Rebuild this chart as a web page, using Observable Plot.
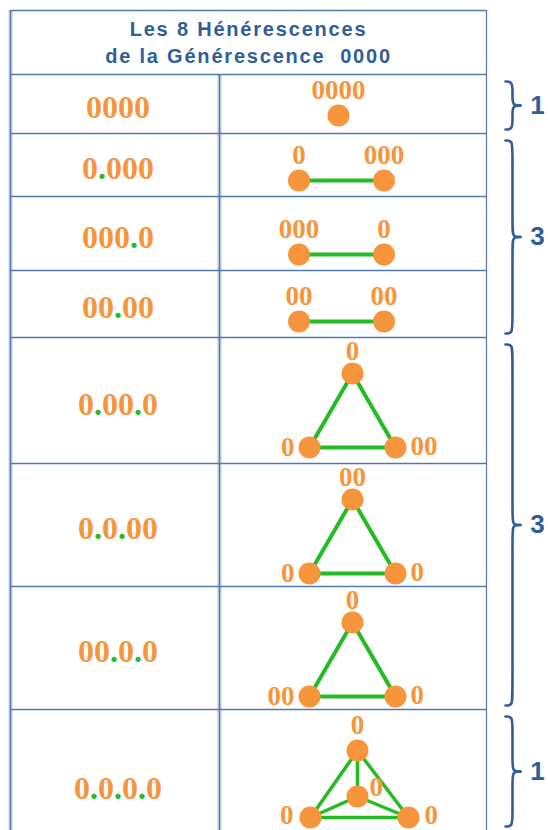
<!DOCTYPE html>
<html><head><meta charset="utf-8">
<script src="https://cdn.jsdelivr.net/npm/d3@7"></script>
<script src="https://cdn.jsdelivr.net/npm/@observablehq/plot@0.6"></script>
<style>html,body{margin:0;padding:0;background:#fff} svg{display:block}</style>
</head><body><div id="chart"></div>
<script>
// ---------- data ----------
const titleLines = ["Les 8 Hénérescences", "de la Générescence  0000"];
const codes = ["0000", "0.000", "000.0", "00.00", "0.00.0", "0.0.00", "00.0.0", "0.0.0.0"];
// vertex labels per row (order: top / left / right / centre)
const vertexLabels = [
  ["0000"],
  ["0", "000"],
  ["000", "0"],
  ["00", "00"],
  ["0", "0", "00"],
  ["00", "0", "0"],
  ["0", "00", "0"],
  ["0", "0", "0", "0"]
];
const groupRows = [[0], [1, 2, 3], [4, 5, 6], [7]];
const groupCounts = ["1", "3", "3", "1"];

// ---------- layout ----------
const W = 548, H = 830;
const tableLeft = 10, colSplit = 219, tableRight = 486, tableTop = 10, headerBottom = 74;
const rowBottoms = [133, 196, 270, 337, 463, 586, 709, 860];
const rowTop = i => i === 0 ? headerBottom : rowBottoms[i - 1];

const ORANGE = "#f7953d", GREEN = "#25bb25", BLUE = "#2f5e9a", GRID = "#5279ae";

function verticesFor(n, top, bottom) {
  if (n === 1) {
    const x = 338, y = bottom - 18;
    return [{x, y, lx: x, ly: y - 25, anchor: "middle"}];
  }
  if (n === 2) {
    const cx = 341, h = 42.5, y = bottom - 16;
    return [-1, 1].map(s => ({x: cx + s * h, y, lx: cx + s * h, ly: y - 25, anchor: "middle"}));
  }
  if (n === 3) {
    const cx = 352, h = 43, yt = top + 36, yb = top + 110;
    return [
      {x: cx, y: yt, lx: cx, ly: yt - 22, anchor: "middle"},
      {x: cx - h, y: yb, lx: cx - h - 15, ly: yb, anchor: "end"},
      {x: cx + h, y: yb, lx: cx + h + 15, ly: yb - 1, anchor: "start"}
    ];
  }
  const cx = 357, yt = top + 41, yb = top + 108, yc = top + 87;
  return [
    {x: cx, y: yt, lx: cx, ly: yt - 25, anchor: "middle"},
    {x: cx - 47, y: yb, lx: cx - 47 - 17, ly: yb - 2, anchor: "end"},
    {x: cx + 51, y: yb, lx: cx + 51 + 16, ly: yb - 2, anchor: "start"},
    {x: cx, y: yc, lx: cx + 12, ly: yc - 9, anchor: "start"}
  ];
}

const nodes = [], edges = [], codeRows = [];
vertexLabels.forEach((labels, i) => {
  const top = rowTop(i), bottom = rowBottoms[i];
  const vs = verticesFor(labels.length, top, bottom);
  vs.forEach((v, k) => nodes.push({...v, label: labels[k], row: i}));
  for (let a = 0; a < vs.length; a++)
    for (let b = a + 1; b < vs.length; b++)
      edges.push({x1: vs[a].x, y1: vs[a].y, x2: vs[b].x, y2: vs[b].y, w: vs.length === 4 ? 3.5 : 4});
  codeRows.push({text: codes[i], x: (tableLeft + colSplit) / 2 + 3, y: (top + bottom) / 2 + 4});
});

// braces
const bracePts = [], braceLabels = [];
groupRows.forEach((rows, g) => {
  const y0 = rowTop(rows[0]) + 7;
  const y1 = Math.min(rowBottoms[rows[rows.length - 1]], H) - 4;
  const ym = (y0 + y1) / 2;
  const xt = 505, xs = 512, xp = 520;
  const upper = [[xt, y0], [xs, y0], [xs, y0 + 12], [xs, ym - 10], [xs, ym], [xp, ym]];
  const lower = [[xp, ym], [xs, ym], [xs, ym + 10], [xs, y1 - 12], [xs, y1], [xt, y1]];
  upper.forEach(([x, y]) => bracePts.push({x, y, z: g + "u"}));
  lower.forEach(([x, y]) => bracePts.push({x, y, z: g + "l"}));
  braceLabels.push({x: 537, y: ym, text: groupCounts[g]});
});

const hLines = [tableTop, headerBottom, ...rowBottoms.filter(y => y < H)];

const svg = Plot.plot({
  width: W, height: H,
  margin: 0, marginTop: 0, marginRight: 0, marginBottom: 0, marginLeft: 0,
  x: {domain: [0, W], range: [0, W], axis: null},
  y: {domain: [0, H], range: [0, H], axis: null},
  style: {background: "#fff"},
  marks: [
    // table grid
    Plot.ruleX([tableLeft, colSplit], {x: d => d, y1: d => d === colSplit ? headerBottom : tableTop, y2: H, stroke: "#b8cbe3", strokeWidth: 4}),
    Plot.ruleX([tableLeft, colSplit, tableRight], {x: d => d, y1: d => d === colSplit ? headerBottom : tableTop, y2: H, stroke: GRID, strokeWidth: 1.2}),
    Plot.ruleY(hLines, {y: d => d, x1: tableLeft, x2: tableRight, stroke: GRID, strokeWidth: 1.6}),
    // title
    Plot.text([titleLines.join("\n")], {
      x: (tableLeft + tableRight) / 2, y: 40, text: d => d, ariaDescription: "title",
      fill: BLUE, fontFamily: "Liberation Sans, Arial, sans-serif", fontWeight: "bold",
      fontSize: 20, lineHeight: 1.38
    }),
    // codes in left column
    Plot.text(codeRows, {x: "x", y: "y", text: "text", ariaDescription: "codes", fill: ORANGE,
      fontFamily: "Liberation Serif, Times New Roman, serif", fontWeight: "bold", fontSize: 32}),
    // graph edges
    Plot.link(edges, {x1: "x1", y1: "y1", x2: "x2", y2: "y2", stroke: GREEN, strokeWidth: "w"}),
    // graph nodes
    Plot.dot(nodes, {x: "x", y: "y", r: 11, fill: ORANGE}),
    // vertex labels
    ...["middle", "start", "end"].map(a => Plot.text(nodes.filter(n => n.anchor === a), {
      x: "lx", y: "ly", text: "label", textAnchor: a, fill: ORANGE,
      fontFamily: "Liberation Serif, Times New Roman, serif", fontWeight: "bold", fontSize: 27
    })),
    // braces
    Plot.line(bracePts, {x: "x", y: "y", z: "z", curve: "basis", stroke: BLUE, strokeWidth: 2.6, strokeLinecap: "round"}),
    Plot.text(braceLabels, {x: "x", y: "y", text: "text", fill: BLUE,
      fontFamily: "Liberation Sans, Arial, sans-serif", fontWeight: "bold", fontSize: 26})
  ]
});

// colour the separating dots green
d3.select(svg).selectAll('g[aria-description="codes"] text').each(function () {
  const s = this.textContent;
  this.textContent = "";
  const sel = d3.select(this);
  for (const ch of s) {
    const t = sel.append("tspan").text(ch);
    if (ch === ".") t.attr("fill", GREEN);
  }
});
d3.select(svg).selectAll('g[aria-description="title"] text').attr("letter-spacing", "1.8");

document.getElementById("chart").appendChild(svg);
</script>
</body></html>
